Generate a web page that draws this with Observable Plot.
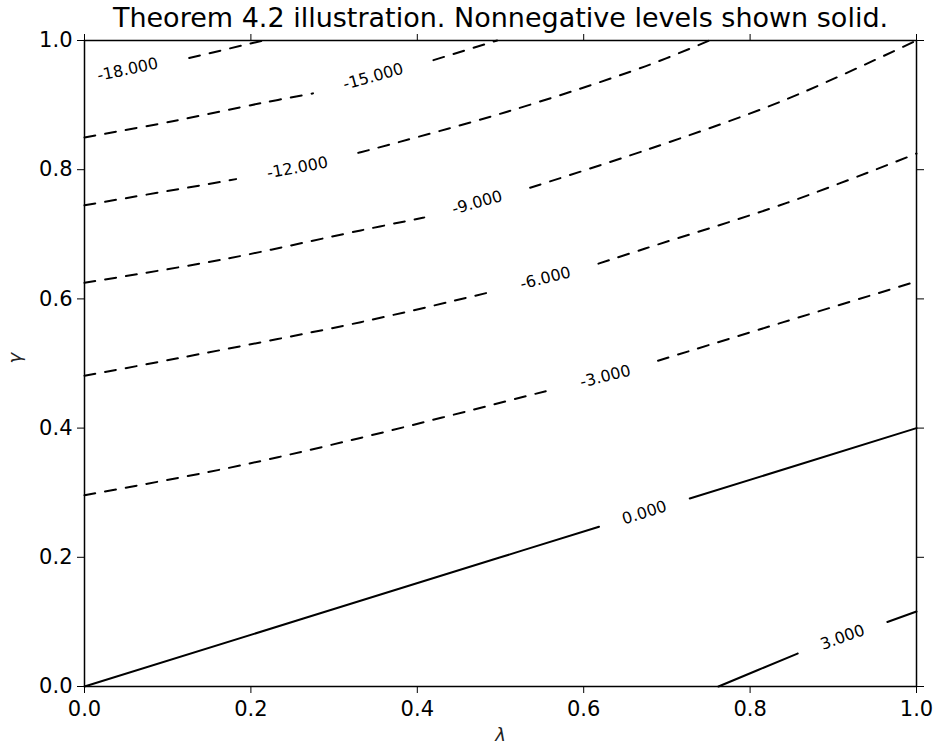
<!DOCTYPE html>
<html>
<head>
<meta charset="utf-8">
<script src="https://cdn.jsdelivr.net/npm/d3@7"></script>
<script src="https://cdn.jsdelivr.net/npm/@observablehq/plot@0.6"></script>
<style>
  html, body { margin: 0; padding: 0; background: #fff; }
  #chart svg { display: block; }
</style>
</head>
<body>
<div id="chart"></div>
<script>
// ---- data ----
const titleText = "Theorem 4.2 illustration. Nonnegative levels shown solid.";
const xLabel = "λ";
const yLabel = "γ";
const xTicks = [0, 0.2, 0.4, 0.6, 0.8, 1.0];
const yTicks = [0, 0.2, 0.4, 0.6, 0.8, 1.0];

// contour levels and their traced paths (lambda, gamma)
const levels = [-18, -15, -12, -9, -6, -3, 0, 3];

const lamM18 = [0, 0.052, 0.123, 0.215];
const gamM18 = [0.941, 0.955, 0.972, 1.0];

const lamM15 = [0, 0.106, 0.212, 0.274, 0.347, 0.418, 0.496];
const gamM15 = [0.850, 0.875, 0.903, 0.918, 0.944, 0.969, 1.0];

const lamM12 = [0, 0.172, 0.256, 0.332, 0.506, 0.674, 0.751];
const gamM12 = [0.745, 0.783, 0.803, 0.827, 0.889, 0.960, 1.0];

const lamM9 = [0, 0.166, 0.332, 0.408, 0.472, 0.533, 0.674, 0.840, 1.0];
const gamM9 = [0.625, 0.661, 0.706, 0.726, 0.749, 0.771, 0.830, 0.907, 1.0];

const lamM6 = [0, 0.112, 0.332, 0.486, 0.554, 0.614, 0.674, 0.845, 1.0];
const gamM6 = [0.481, 0.508, 0.564, 0.610, 0.632, 0.653, 0.678, 0.749, 0.825];

const lamM3 = [0, 0.172, 0.329, 0.563, 0.626, 0.686, 0.840, 1.0];
const gamM3 = [0.296, 0.338, 0.384, 0.460, 0.480, 0.503, 0.564, 0.627];

const lam0 = [0, 0.5, 1.0];
const gam0 = [0, 0.2, 0.4];

const lamP3 = [0.762, 0.857, 0.911, 0.963, 1.0];
const gamP3 = [0, 0.051, 0.076, 0.099, 0.116];

// inline label positions (lambda, gamma), one per level
const labelLam = [0.052, 0.347, 0.256, 0.472, 0.554, 0.626, 0.673, 0.911];
const labelGam = [0.955, 0.944, 0.803, 0.749, 0.632, 0.480, 0.269, 0.076];

// ---- layout ----
const W = 939, H = 748;
const mL = 84, mR = 23, mT = 40, mB = 62;
const sx = d3.scaleLinear([0, 1], [mL, W - mR]);
const sy = d3.scaleLinear([0, 1], [H - mB, mT]);

const paths = [
  [lamM18, gamM18], [lamM15, gamM15], [lamM12, gamM12], [lamM9, gamM9],
  [lamM6, gamM6], [lamM3, gamM3], [lam0, gam0], [lamP3, gamP3]
];

// cut a gap around the label (in pixel space), as inline contour labels do
function cutGap(pts, c, r) {
  const out = [];
  const inside = p => Math.hypot(p[0] - c[0], p[1] - c[1]) < r;
  for (let i = 0; i < pts.length - 1; i++) {
    const p = pts[i], q = pts[i + 1];
    const dx = q[0] - p[0], dy = q[1] - p[1];
    const fx = p[0] - c[0], fy = p[1] - c[1];
    const a = dx * dx + dy * dy, b = 2 * (fx * dx + fy * dy), cc = fx * fx + fy * fy - r * r;
    const disc = b * b - 4 * a * cc;
    let ts = [];
    if (disc > 0) {
      const s = Math.sqrt(disc);
      ts = [(-b - s) / (2 * a), (-b + s) / (2 * a)].filter(t => t > 0 && t < 1).sort((u, v) => u - v);
    }
    if (i === 0 && !inside(p)) out.push(p);
    for (const t of ts) {
      const m = [p[0] + t * dx, p[1] + t * dy];
      const after = [p[0] + (t + 1e-6) * dx, p[1] + (t + 1e-6) * dy];
      if (inside(after)) { out.push(m); out.push([NaN, NaN]); }
      else { out.push(m); }
    }
    if (!inside(q)) out.push(q);
  }
  return out;
}

const lineRows = [];
const labelRows = [];
levels.forEach((lev, k) => {
  const [lams, gams] = paths[k];
  const pts = lams.map((l, i) => [sx(l), sy(gams[i])]);
  const txt = lev.toFixed(3);
  const c = [sx(labelLam[k]), sy(labelGam[k])];
  const r = 7.5 * txt.length + 10;
  let j = 0;
  while (j < lams.length - 2 && lams[j + 1] < labelLam[k]) j++;
  const ang = Math.atan2(pts[j + 1][1] - pts[j][1], pts[j + 1][0] - pts[j][0]) * 180 / Math.PI;
  labelRows.push({lam: labelLam[k], gam: labelGam[k], text: txt, angle: ang});
  for (const p of cutGap(pts, c, r)) {
    lineRows.push({
      level: lev,
      lam: isNaN(p[0]) ? NaN : sx.invert(p[0]),
      gam: isNaN(p[1]) ? NaN : sy.invert(p[1])
    });
  }
});

const neg = lineRows.filter(d => d.level < 0);
const pos = lineRows.filter(d => d.level >= 0);
const fmt = d3.format(".1f");

const chart = Plot.plot({
  width: W,
  height: H,
  marginLeft: mL,
  marginRight: mR,
  marginTop: mT,
  marginBottom: mB,
  style: {fontFamily: "'DejaVu Sans', sans-serif", fontSize: "21px", color: "black", background: "white"},
  x: {domain: [0, 1]},
  y: {domain: [0, 1]},
  marks: [
    Plot.line(neg, {x: "lam", y: "gam", z: "level", curve: "catmull-rom", stroke: "black", strokeWidth: 2, strokeDasharray: "11,10"}),
    Plot.line(pos, {x: "lam", y: "gam", z: "level", curve: "catmull-rom", stroke: "black", strokeWidth: 2}),
    Plot.text(labelRows, {x: "lam", y: "gam", text: "text", rotate: d => d.angle, fontSize: 16, fill: "black", lineAnchor: "middle", textAnchor: "middle"}),
    Plot.frame({stroke: "black", strokeWidth: 1.5}),
    Plot.axisX({anchor: "bottom", ticks: xTicks, tickSize: 7, tickPadding: 8, tickFormat: fmt, fontSize: 21, label: null}),
    Plot.axisX({anchor: "top", ticks: xTicks, tickSize: 7, tickFormat: () => "", label: null}),
    Plot.axisY({anchor: "left", ticks: yTicks, tickSize: 7, tickPadding: 5, tickFormat: fmt, fontSize: 21, label: null}),
    Plot.axisY({anchor: "right", ticks: yTicks, tickSize: 7, tickFormat: () => "", label: null}),
    Plot.text([titleText], {frameAnchor: "top", dy: -14, lineAnchor: "bottom", fontSize: 27, fill: "black"}),
    Plot.text([xLabel], {frameAnchor: "bottom", dy: 54, fontSize: 18, fontStyle: "italic", fill: "#222"}),
    Plot.text([yLabel], {frameAnchor: "left", dx: -69, rotate: -90, fontSize: 18, fontStyle: "italic", fill: "#222"})
  ]
});
document.getElementById("chart").appendChild(chart);
</script>
</body>
</html>
